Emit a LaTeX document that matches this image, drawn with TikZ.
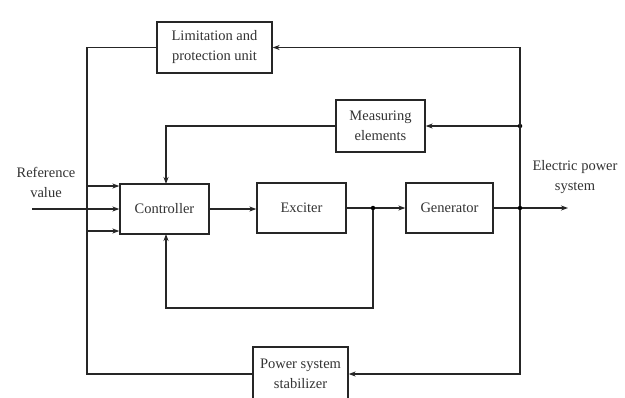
\documentclass[tikz,border=0pt]{standalone}
\usepackage{fontspec}
\setmainfont{Liberation Serif}
\usetikzlibrary{arrows.meta}
\begin{document}
\begin{tikzpicture}[x=1pt,y=-1pt,
  blk/.style={draw=black!85,line width=1.3pt,inner sep=0pt,align=center,
    font=\fontsize{14.5}{20}\selectfont,text=black!80},
  lbl/.style={align=center,font=\fontsize{14.5}{20}\selectfont,text=black!80},
  wire/.style={draw=black!85,line width=1.3pt},
  arr/.style={wire,-{Stealth[length=7pt,width=5pt]}},
  dot/.style={circle,fill=black,inner sep=0pt,minimum size=4.5pt}]
\useasboundingbox (0,0) rectangle (625,397);
\fill[white] (0,0) rectangle (625,397);
% blocks
\node[blk,minimum width=115pt,minimum height=51pt] (lim) at (214.5,47.5) {Limitation and\\protection unit};
\node[blk,minimum width=89pt,minimum height=52pt] (meas) at (380.5,126) {Measuring\\elements};
\node[blk,minimum width=89pt,minimum height=50pt] (ctrl) at (164.5,209) {Controller};
\node[blk,minimum width=89pt,minimum height=50pt] (exc) at (301.5,208) {Exciter};
\node[blk,minimum width=87pt,minimum height=50pt] (gen) at (449.5,208) {Generator};
\node[blk,minimum width=95pt,minimum height=54pt] (pss) at (300.5,374) {Power system\\stabilizer};
% labels
\node[lbl] (ref) at (46,182) {Reference\\value};
\node[lbl] (eps) at (575,177) {Electric power\\system};
% junctions
\node[dot] (j1) at (373,208) {};
\node[dot] (j2) at (520,208) {};
\node[dot] (j3) at (520,126) {};
\coordinate (topR) at (520,47.5);
\coordinate (botR) at (520,374);
\coordinate (inL) at (32,209);
\coordinate (outR) at (568,208);
\coordinate (fbL) at (87,47.5);
\coordinate (pssL) at (87,374);
\coordinate (fbB) at (373,308);
% connectors
\draw[arr] (lim.west) -- (fbL) |- ([yshift=-22pt]ctrl.west);
\draw[arr] (inL) -- (ctrl.west);
\draw[arr] (pss.west) -- (pssL) |- ([yshift=23pt]ctrl.west);
\draw[arr] (ctrl.east) -- (ctrl.east -| exc.west);
\draw[wire] (exc.east) -- (j1);
\draw[arr] (j1) -- (gen.west);
\draw[arr] (j1) -- (fbB) -| (166,234);
\draw[wire] (gen.east) -- (j2);
\draw[arr] (j2) -- (outR);
\draw[arr] (j2) -- (topR) -- (lim.east);
\draw[arr] (j3) -- (meas.east);
\draw[arr] (meas.west) -| (166,184);
\draw[arr] (j2) -- (botR) -- (pss.east);
\end{tikzpicture}
\end{document}
